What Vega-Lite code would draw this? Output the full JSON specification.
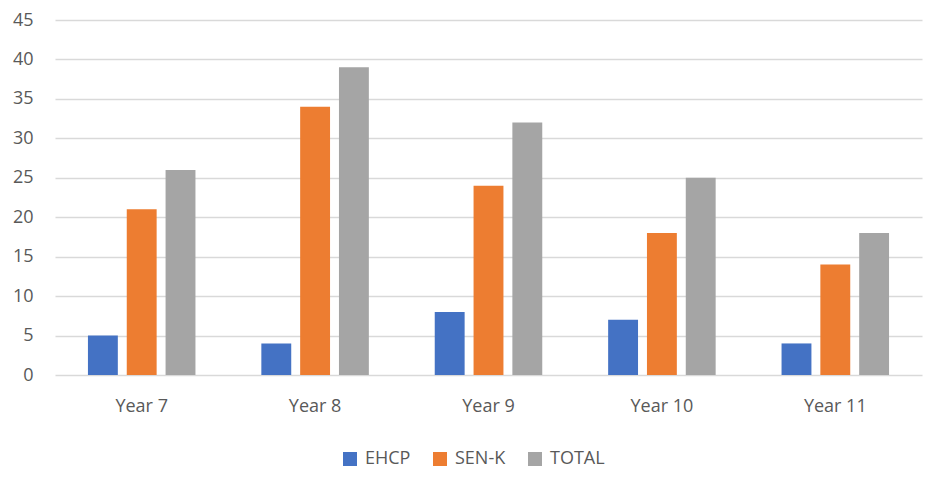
{
  "$schema": "https://vega.github.io/schema/vega-lite/v6.json",
  "width": 867,
  "height": 355,
  "autosize": {"type": "none"},
  "padding": {"left": 55, "top": 20, "right": 5, "bottom": 102},
  "background": "white",
  "data": {
    "values": [
      {"year": "Year 7", "series": "EHCP", "value": 5},
      {"year": "Year 7", "series": "SEN-K", "value": 21},
      {"year": "Year 7", "series": "TOTAL", "value": 26},
      {"year": "Year 8", "series": "EHCP", "value": 4},
      {"year": "Year 8", "series": "SEN-K", "value": 34},
      {"year": "Year 8", "series": "TOTAL", "value": 39},
      {"year": "Year 9", "series": "EHCP", "value": 8},
      {"year": "Year 9", "series": "SEN-K", "value": 24},
      {"year": "Year 9", "series": "TOTAL", "value": 32},
      {"year": "Year 10", "series": "EHCP", "value": 7},
      {"year": "Year 10", "series": "SEN-K", "value": 18},
      {"year": "Year 10", "series": "TOTAL", "value": 25},
      {"year": "Year 11", "series": "EHCP", "value": 4},
      {"year": "Year 11", "series": "SEN-K", "value": 14},
      {"year": "Year 11", "series": "TOTAL", "value": 18}
    ]
  },
  "config": {
    "view": {"stroke": null},
    "font": "Open Sans",
    "axis": {"labelFont": "Open Sans", "labelFontSize": 18, "labelColor": "#595959"},
    "legend": {"labelFont": "Open Sans", "labelFontSize": 18, "labelColor": "#595959"}
  },
  "mark": {"type": "bar"},
  "encoding": {
    "x": {
      "field": "year",
      "type": "nominal",
      "sort": null,
      "scale": {"paddingInner": 0.38, "paddingOuter": 0.19},
      "axis": {"title": null, "labelAngle": 0, "ticks": false, "domain": false, "labelPadding": 22}
    },
    "xOffset": {
      "field": "series",
      "type": "nominal",
      "scale": {"paddingInner": 0.23, "paddingOuter": 0}
    },
    "y": {
      "field": "value",
      "type": "quantitative",
      "scale": {"domain": [0, 45]},
      "axis": {
        "title": null,
        "values": [0, 5, 10, 15, 20, 25, 30, 35, 40, 45],
        "domain": false,
        "ticks": false,
        "labelPadding": 22,
        "gridColor": "#d9d9d9",
        "gridWidth": 1.3
      }
    },
    "color": {
      "field": "series",
      "type": "nominal",
      "scale": {"domain": ["EHCP", "SEN-K", "TOTAL"], "range": ["#4472C4", "#ED7D31", "#A5A5A5"]},
      "legend": {
        "title": null,
        "orient": "none",
        "legendX": 286,
        "legendY": 430,
        "direction": "horizontal",
        "symbolType": "square",
        "symbolSize": 196,
        "symbolStrokeWidth": 0,
        "columnPadding": 20,
        "labelOffset": 6
      }
    }
  }
}
